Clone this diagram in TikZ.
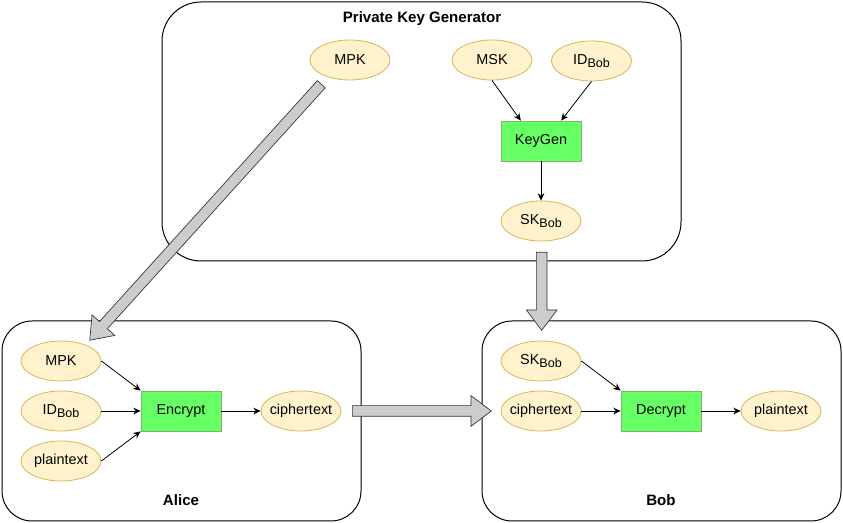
\documentclass[tikz,border=0pt]{standalone}
\usepackage{fontspec}
\setmainfont{Liberation Sans}
\usetikzlibrary{arrows.meta,shapes.geometric,shapes.arrows,calc}
\definecolor{datafill}{HTML}{FFF2CC}
\definecolor{dataline}{HTML}{D6B656}
\definecolor{algfill}{HTML}{66FF66}
\definecolor{algline}{HTML}{82B366}
\newcommand\subbob{\raisebox{-2.2pt}{\fontsize{9.4}{9.4}\selectfont Bob}}
\tikzset{
  datanode/.style={ellipse,draw=dataline,fill=datafill,minimum width=60pt,minimum height=30pt,inner xsep=-6pt,inner ysep=0pt,font=\fontsize{10.8}{12}\selectfont},
  algbox/.style={rectangle,draw=algline,fill=algfill,minimum width=60pt,minimum height=30pt,inner sep=0pt,font=\fontsize{10.8}{12}\selectfont},
  partybox/.style={rectangle,draw,line width=0.75pt,fill=white},
  boxtitle/.style={font=\bfseries\fontsize{11.3}{13}\selectfont},
  transfer/.style={single arrow,draw=black!80,fill=black!20,line width=0.5pt,inner xsep=0pt,inner ysep=3.75pt,
    single arrow head extend=7.5pt,single arrow tip angle=74,single arrow head indent=0pt,minimum width=0pt}
}

\begin{document}
\begin{tikzpicture}[x=0.75pt,y=-0.75pt,>={Stealth[length=5.5pt,width=5pt]},line width=0.6pt]
\useasboundingbox (0,0) rectangle (843,523);
% party boxes
\node[partybox,minimum width=389.25pt,minimum height=194.25pt,rounded corners=29.25pt] (pkg) at (421.5,131.5) {};
\node[partybox,minimum width=269.25pt,minimum height=150pt,rounded corners=22.5pt] (alice) at (181.5,421) {};
\node[partybox,minimum width=269.25pt,minimum height=150pt,rounded corners=22.5pt] (bob) at (661.5,421) {};
\node[boxtitle] (pkgtitle) at (422,19) {Private Key Generator};
\node[boxtitle] (alicetitle) at (181,500) {Alice};
\node[boxtitle] (bobtitle) at (661,500) {Bob};
% private key generator
\node[datanode] (mpk) at (350,60) {MPK};
\node[datanode] (msk) at (492,60) {MSK};
\node[datanode] (idbob) at (591.5,61) {ID\subbob};
\node[algbox] (keygen) at (541,141) {KeyGen};
\node[datanode] (skbob) at (541,221) {SK\subbob};
\draw[->] (msk.south) -- ($(keygen.north west)!.25!(keygen.north east)$);
\draw[->] (idbob.south) -- ($(keygen.north west)!.75!(keygen.north east)$);
\draw[->] (keygen) -- (skbob);
% alice
\node[datanode] (ampk) at (61,361) {MPK};
\node[datanode] (aid) at (61,411) {ID\subbob};
\node[datanode] (apt) at (61,461) {plaintext};
\node[algbox] (encrypt) at (181,411) {Encrypt};
\node[datanode] (act) at (301,411) {ciphertext};
\draw[->] (ampk.east) -- (encrypt.north west);
\draw[->] (aid) -- (encrypt);
\draw[->] (apt.east) -- (encrypt.south west);
\draw[->] (encrypt) -- (act);
% bob
\node[datanode] (bsk) at (541,361) {SK\subbob};
\node[datanode] (bct) at (541,411) {ciphertext};
\node[algbox] (decrypt) at (661,411) {Decrypt};
\node[datanode] (bpt) at (781,411) {plaintext};
\draw[->] (bsk.east) -- (decrypt.north west);
\draw[->] (bct) -- (decrypt);
\draw[->] (decrypt) -- (bpt);
% transfers
\coordinate (t1a) at (321.5,84);
\coordinate (t1b) at (90,340);
\coordinate (t2a) at (541.7,252);
\coordinate (t2b) at (541.7,330);
\coordinate (t3a) at (352,411);
\coordinate (t3b) at (491,411);
\foreach \a/\b in {t1a/t1b,t2a/t2b,t3a/t3b}
  \path let \p1=($(\b)-(\a)$), \n1={veclen(\x1,\y1)} in
    (\a) -- (\b) node[pos=0,sloped,allow upside down,anchor=tail,transfer,minimum height=\n1] {};
\end{tikzpicture}
\end{document}
